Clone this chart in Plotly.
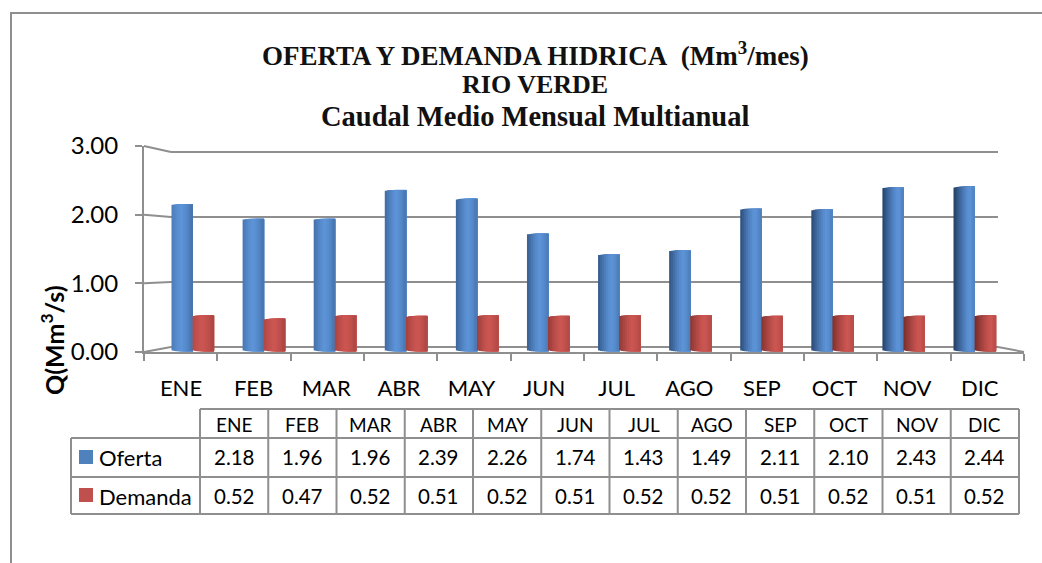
import plotly.graph_objects as go
import math

months = ["ENE","FEB","MAR","ABR","MAY","JUN","JUL","AGO","SEP","OCT","NOV","DIC"]
oferta = [2.18,1.96,1.96,2.39,2.26,1.74,1.43,1.49,2.11,2.10,2.43,2.44]
demanda = [0.52,0.47,0.52,0.51,0.52,0.51,0.52,0.52,0.51,0.52,0.51,0.52]
yticks = [0,1,2,3]
title_lines = ["OFERTA Y DEMANDA HIDRICA&nbsp;&nbsp;(Mm<sup>3</sup>/mes)","RIO VERDE","Caudal Medio Mensual Multianual"]

W, H = 1042, 563
BODY = "Lato"
TITLEF = "Liberation Serif"
GRID = "#8f8f8f"
TXT = "#000000"
def px(x): return x / W
def py(y): return 1 - y / H
def mix(a, b, t): return tuple(a[k] + (b[k]-a[k]) * t for k in range(3))
def css(c): return "rgb(%d,%d,%d)" % tuple(round(v) for v in c)

fig = go.Figure()
fig.add_trace(go.Scatter(x=[0], y=[0], xaxis="x", yaxis="y", opacity=0, hoverinfo="skip", showlegend=False))

N = 11
E = 0.022
BW = 21.5 / 71.1
def strips(name, values, dark, light, start):
    for j in range(N):
        u = (j + 0.5) / N
        s = math.sqrt(max(0, 1 - (2*u-1)**2))
        colors = []
        for i in range(12):
            t = i / 11
            peak = 0.45 + 0.3 * t
            ledge = 0.25 + 0.65 * t
            redge = 0.35 - 0.15 * t
            if u < peak:
                k = (peak - u) / peak
                col = mix(light, dark, ledge * k ** 1.3)
            else:
                k = (u - peak) / (1 - peak)
                col = mix(light, dark, redge * k ** 1.3)
            colors.append(css(col))
        fig.add_trace(go.Bar(
            x=months, y=[v + 2*E*s - E for v in values], base=[-E*s]*12,
            width=BW * (1 - j / N), offset=start + BW * j / N,
            marker=dict(color=colors, line=dict(width=0)),
            xaxis="x2", yaxis="y2", name=name, showlegend=False,
            hovertemplate=name + " %{x}<extra></extra>"))
strips("Oferta", oferta, (25,50,85), (93,148,216), -BW)
strips("Demanda", demanda, (105,38,36), (204,86,82), -BW + BW*0.98)
fig.add_trace(go.Scatter(x=months, y=[0]*12, xaxis="x3", yaxis="y3", opacity=0, hoverinfo="skip", showlegend=False))

shapes, ann = [], []
def line(x0, y0, x1, y1, w=2, c=GRID):
    shapes.append(dict(type="line", xref="paper", yref="paper", x0=px(x0), y0=py(y0), x1=px(x1), y1=py(y1),
                       line=dict(color=c, width=w), layer="below"))
def text(x, y, s, size=19, font=BODY, color=TXT, anchor="center", angle=0, bold=False):
    f = dict(family=font, size=size, color=color)
    if bold:
        f["weight"] = "bold"
    ann.append(dict(xref="paper", yref="paper", x=px(x), y=py(y), text=s, showarrow=False,
                    xanchor=anchor, yanchor="middle", textangle=angle, font=f))

line(11, 13, W, 13)
line(11, 12, 11, H)

for v in yticks:
    yf = 352 - v * (352-146)/3
    yb = 347 - v * 65
    line(144, yf, 171, yb)
    line(171, yb, 998, yb)
line(998, 347, 1024, 352)

cols = [200 + 68.25*i for i in range(13)]
R = [409, 438, 477, 514]
L = 71
line(cols[0], R[0], cols[-1], R[0])
for r in R[1:]:
    line(L, r, cols[-1], r)
line(L, R[1], L, R[3])
for c in cols:
    line(c, R[0], c, R[3])
for i, m in enumerate(months):
    cx = (cols[i] + cols[i+1]) / 2
    text(cx, 424, m, 19)
    text(cx, 457, "%.2f" % oferta[i], 20.5)
    text(cx, 496, "%.2f" % demanda[i], 20.5)
for name, col, ytop, yc in [("Oferta", "#4F81BD", 450, 457), ("Demanda", "#C0504D", 488, 496)]:
    shapes.append(dict(type="rect", xref="paper", yref="paper", x0=px(79), x1=px(93), y0=py(ytop), y1=py(ytop+14),
                       fillcolor=col, line=dict(width=0)))
    text(97, yc, name, 22, anchor="left")

for s, y, sz in zip(title_lines, [54, 85, 116], [27, 26, 28.5]):
    text(535, y, s, sz, font=TITLEF, color="#111111", bold=True)
text(52, 340, "Q(Mm<sup>3</sup>/s)", 25, angle=-90, bold=True)

fig.update_layout(
    width=W, height=H, margin=dict(l=0, r=0, t=0, b=0), paper_bgcolor="white", plot_bgcolor="rgba(0,0,0,0)",
    barmode="overlay", showlegend=False, shapes=shapes, annotations=ann,
    xaxis=dict(domain=[px(144), px(1024)], range=[-0.5, 11.5], anchor="y", showgrid=False, zeroline=False, automargin=False,
               tickmode="array", tickvals=[i - 0.5 for i in range(13)], showticklabels=False,
               ticks="outside", ticklen=7, tickwidth=2, tickcolor=GRID, showline=True, linecolor=GRID, linewidth=2),
    yaxis=dict(domain=[py(352), py(146)], range=[0, 3], anchor="x", showgrid=False, zeroline=False, automargin=False,
               tickmode="array", tickvals=yticks, tickformat=".2f",
               ticks="outside", ticklen=7, tickwidth=2, tickcolor=GRID, ticklabelstandoff=12,
               showline=True, linecolor=GRID, linewidth=2,
               tickfont=dict(family=BODY, size=24, color=TXT)),
    xaxis2=dict(domain=[px(193-35.55), px(975+35.55)], range=[-0.5, 11.5], type="category", categoryorder="array",
                categoryarray=months, anchor="y2", visible=False, automargin=False),
    yaxis2=dict(domain=[py(350 + 0.05*67), py(350 - 3*67)], range=[-0.05, 3], anchor="x2", visible=False, automargin=False),
    xaxis3=dict(domain=[px(144.7), px(1016)], type="category", categoryorder="array", categoryarray=months,
                range=[-0.5, 11.5], anchor="y3", side="bottom", automargin=False,
                showgrid=False, zeroline=False, showline=False, ticks="",
                tickfont=dict(family=BODY, size=22, color=TXT)),
    yaxis3=dict(domain=[py(373), py(360)], anchor="x3", range=[0, 1], visible=False, automargin=False),
)
fig.write_html("out.html", config={"displayModeBar": False}, post_script="document.body.style.margin='0';")
